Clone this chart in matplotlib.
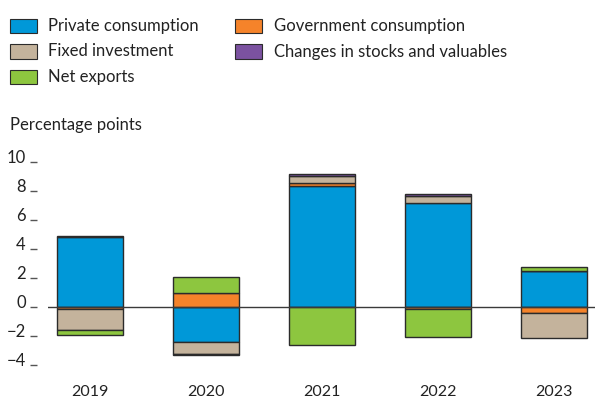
import matplotlib
matplotlib.use("Agg")
import matplotlib.pyplot as plt
from matplotlib.patches import Rectangle
import matplotlib.transforms as mtransforms
import numpy as np

plt.rcParams['font.family'] = ['Lato', 'DejaVu Sans']

years = ["2019", "2020", "2021", "2022", "2023"]
private = [4.8, -2.4, 8.3, 7.15, 2.45]
government = [-0.18, 0.97, 0.22, -0.15, -0.45]
fixed = [-1.45, -0.85, 0.5, 0.5, -1.7]
stocks = [0.1, -0.1, 0.15, 0.14, 0.0]
net_exports = [-0.35, 1.1, -2.65, -1.95, 0.32]

series = [
    ("Private consumption", private, "#0098D8"),
    ("Government consumption", government, "#F5832A"),
    ("Fixed investment", fixed, "#C4B39C"),
    ("Changes in stocks and valuables", stocks, "#7B52A0"),
    ("Net exports", net_exports, "#8DC63F"),
]

W, H = 600, 400
fig = plt.figure(figsize=(6, 4), dpi=100)
ax = fig.add_axes([48 / W, 0.07, 547 / W, 0.544])

x = np.arange(len(years))
pos_base = np.zeros(len(years))
neg_base = np.zeros(len(years))
for name, vals, col in series:
    v = np.array(vals, dtype=float)
    bottoms = np.where(v >= 0, pos_base, neg_base)
    ax.bar(x, v, width=0.57, bottom=bottoms, color=col, edgecolor="#2b2b2b",
           linewidth=1.0, zorder=2)
    pos_base = pos_base + np.where(v >= 0, v, 0)
    neg_base = neg_base + np.where(v < 0, v, 0)

ax.axhline(0, color="#3a3a3a", linewidth=1.0, zorder=3)
ax.set_xlim(-0.36, 4.35)
ax.set_ylim(-4.5, 10.5)
ax.set_yticks([10, 8, 6, 4, 2, 0, -2, -4])
ax.set_yticklabels(["10", "8", "6", "4", "2", "0", "\u22122", "\u22124"])
ax.set_xticks(x)
ax.set_xticklabels(years)
for s in ax.spines.values():
    s.set_visible(False)
ax.spines['left'].set_position(('outward', 8))
ax.tick_params(axis="y", length=5, width=1, color="#555555", pad=3,
               labelsize=12, labelcolor="#222222")
ax.tick_params(axis="x", length=0, pad=9, labelsize=11.5, labelcolor="#222222")
offset = mtransforms.ScaledTranslation(0, 3.6 / 72, fig.dpi_scale_trans)
for lab in ax.get_yticklabels():
    lab.set_transform(lab.get_transform() + offset)

fig.text(10 / W, 1 - 125 / H, "Percentage points", fontsize=12,
         color="#222222", va="center", ha="left")

# legend drawn manually
order = [0, 2, 4, 1, 3]
for k, i in enumerate(order):
    col_i = 0 if k < 3 else 1
    row_i = k if k < 3 else k - 3
    px = 10 if col_i == 0 else 235
    tx = 48 if col_i == 0 else 274
    cy = 26 + row_i * 25.5
    fig.add_artist(Rectangle((px / W, 1 - (cy + 7) / H), 27 / W, 14 / H,
                             transform=fig.transFigure, facecolor=series[i][2],
                             edgecolor="#2b2b2b", linewidth=0.8))
    fig.text(tx / W, 1 - cy / H, series[i][0], fontsize=12, color="#222222",
             va="center", ha="left")

fig.savefig("out.png", dpi=100)
